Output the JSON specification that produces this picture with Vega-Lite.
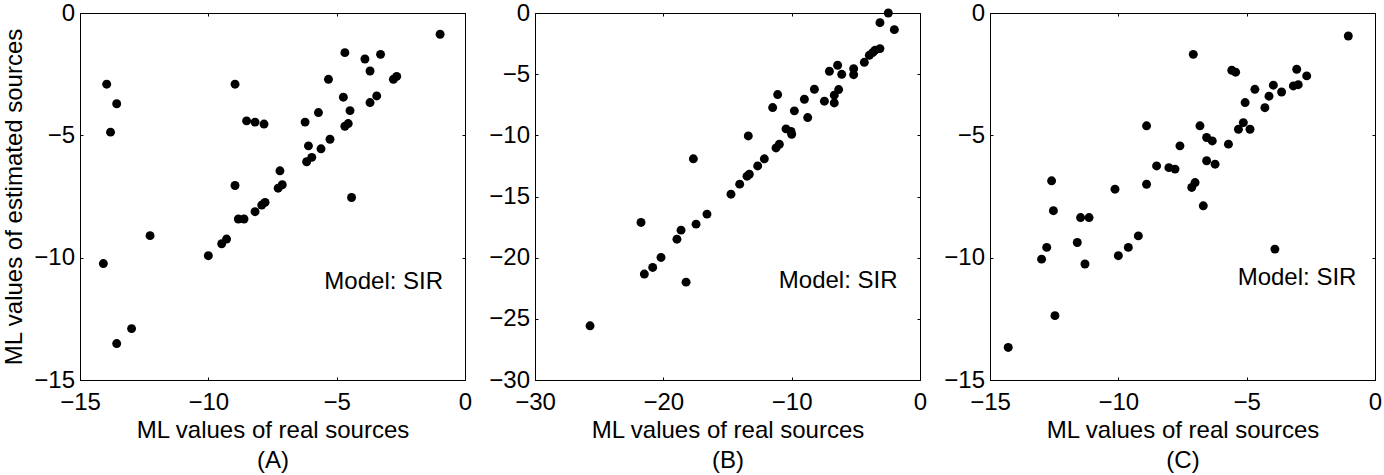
{
  "$schema": "https://vega.github.io/schema/vega-lite/v6.json",
  "padding": {"left": 2, "top": 0, "right": 0, "bottom": 0},
  "background": "white",
  "datasets": {
    "A": [
      {"x": -0.97, "y": -0.87}, {"x": -4.68, "y": -1.62}, {"x": -3.29, "y": -1.69}, {"x": -3.9, "y": -1.88},
      {"x": -3.7, "y": -2.37}, {"x": -5.32, "y": -2.71}, {"x": -2.79, "y": -2.71}, {"x": -2.66, "y": -2.59},
      {"x": -13.96, "y": -2.91}, {"x": -8.96, "y": -2.91}, {"x": -4.74, "y": -3.44}, {"x": -3.44, "y": -3.39},
      {"x": -3.7, "y": -3.66}, {"x": -13.57, "y": -3.71}, {"x": -5.71, "y": -4.07}, {"x": -4.48, "y": -3.99},
      {"x": -6.23, "y": -4.46}, {"x": -8.51, "y": -4.41}, {"x": -8.18, "y": -4.46}, {"x": -7.83, "y": -4.54},
      {"x": -4.55, "y": -4.52}, {"x": -4.68, "y": -4.63}, {"x": -13.81, "y": -4.87}, {"x": -5.26, "y": -5.16},
      {"x": -6.1, "y": -5.43}, {"x": -5.61, "y": -5.55}, {"x": -5.97, "y": -5.9}, {"x": -6.17, "y": -6.08},
      {"x": -7.21, "y": -6.45}, {"x": -7.28, "y": -7.16}, {"x": -7.12, "y": -7.02}, {"x": -8.96, "y": -7.05},
      {"x": -4.42, "y": -7.54}, {"x": -7.79, "y": -7.74}, {"x": -7.92, "y": -7.85}, {"x": -8.18, "y": -8.12},
      {"x": -8.83, "y": -8.42}, {"x": -8.61, "y": -8.42}, {"x": -12.27, "y": -9.1}, {"x": -9.29, "y": -9.24},
      {"x": -9.48, "y": -9.43}, {"x": -10.0, "y": -9.92}, {"x": -14.09, "y": -10.24}, {"x": -12.99, "y": -12.9},
      {"x": -13.57, "y": -13.51}
    ],
    "B": [
      {"x": -2.47, "y": 0.0}, {"x": -3.12, "y": -0.79}, {"x": -2.0, "y": -1.36}, {"x": -3.12, "y": -2.91},
      {"x": -3.51, "y": -3.05}, {"x": -3.69, "y": -3.24}, {"x": -3.95, "y": -3.46}, {"x": -4.34, "y": -4.03},
      {"x": -5.17, "y": -4.55}, {"x": -5.17, "y": -5.04}, {"x": -6.42, "y": -4.27}, {"x": -7.06, "y": -4.76},
      {"x": -6.1, "y": -5.01}, {"x": -8.23, "y": -6.23}, {"x": -6.34, "y": -6.26}, {"x": -6.68, "y": -6.72},
      {"x": -7.45, "y": -7.21}, {"x": -6.68, "y": -7.35}, {"x": -9.01, "y": -7.05}, {"x": -11.09, "y": -6.67},
      {"x": -11.48, "y": -7.73}, {"x": -9.79, "y": -8.0}, {"x": -8.75, "y": -8.55}, {"x": -10.44, "y": -9.47},
      {"x": -10.0, "y": -9.91}, {"x": -10.05, "y": -9.68}, {"x": -13.38, "y": -10.05}, {"x": -10.96, "y": -10.73},
      {"x": -11.22, "y": -11.03}, {"x": -17.66, "y": -11.92}, {"x": -12.13, "y": -11.92}, {"x": -12.65, "y": -12.5},
      {"x": -13.3, "y": -13.18}, {"x": -13.48, "y": -13.34}, {"x": -14.05, "y": -13.99}, {"x": -14.73, "y": -14.81},
      {"x": -16.6, "y": -16.44}, {"x": -17.45, "y": -17.26}, {"x": -21.74, "y": -17.12}, {"x": -18.62, "y": -17.75},
      {"x": -18.94, "y": -18.49}, {"x": -20.18, "y": -19.98}, {"x": -20.83, "y": -20.8}, {"x": -21.48, "y": -21.34},
      {"x": -18.23, "y": -22.0}, {"x": -25.71, "y": -25.57}
    ],
    "C": [
      {"x": -1.04, "y": -0.94}, {"x": -7.08, "y": -1.69}, {"x": -3.05, "y": -2.3}, {"x": -2.66, "y": -2.57},
      {"x": -5.58, "y": -2.34}, {"x": -5.43, "y": -2.42}, {"x": -3.96, "y": -2.95}, {"x": -3.18, "y": -2.98},
      {"x": -2.99, "y": -2.93}, {"x": -4.68, "y": -3.12}, {"x": -3.64, "y": -3.23}, {"x": -4.13, "y": -3.4},
      {"x": -5.06, "y": -3.66}, {"x": -4.29, "y": -3.87}, {"x": -8.9, "y": -4.61}, {"x": -6.82, "y": -4.61},
      {"x": -5.13, "y": -4.48}, {"x": -5.32, "y": -4.75}, {"x": -4.87, "y": -4.75}, {"x": -6.56, "y": -5.09},
      {"x": -6.34, "y": -5.23}, {"x": -5.71, "y": -5.36}, {"x": -7.6, "y": -5.43}, {"x": -6.56, "y": -6.04},
      {"x": -6.23, "y": -6.18}, {"x": -8.51, "y": -6.25}, {"x": -8.03, "y": -6.32}, {"x": -7.79, "y": -6.38},
      {"x": -8.9, "y": -7.0}, {"x": -7.01, "y": -6.93}, {"x": -7.14, "y": -7.13}, {"x": -10.13, "y": -7.2},
      {"x": -12.6, "y": -6.86}, {"x": -6.69, "y": -7.88}, {"x": -12.53, "y": -8.08}, {"x": -11.47, "y": -8.36},
      {"x": -11.14, "y": -8.36}, {"x": -9.22, "y": -9.11}, {"x": -11.6, "y": -9.38}, {"x": -9.61, "y": -9.58},
      {"x": -12.79, "y": -9.58}, {"x": -3.9, "y": -9.65}, {"x": -10.0, "y": -9.92}, {"x": -12.99, "y": -10.06},
      {"x": -11.3, "y": -10.26}, {"x": -12.47, "y": -12.37}, {"x": -14.29, "y": -13.67}
    ]
  },
  "hconcat": [
    {
      "width": 385, "height": 367,
      "data": {"name": "A"},
      "layer": [
        {
          "mark": {"type": "circle", "size": 80, "color": "black", "opacity": 1},
          "encoding": {
            "x": {"field": "x", "type": "quantitative", "scale": {"domain": [-15, 0], "nice": false, "zero": false},
                  "axis": {"orient": "bottom", "values": [-15, -10, -5, 0], "title": ["ML values of real sources", "(A)"]}},
            "y": {"field": "y", "type": "quantitative", "scale": {"domain": [-15, 0], "nice": false, "zero": false},
                  "axis": {"orient": "left", "values": [-15, -10, -5, 0], "title": "ML values of estimated sources"}}
          }
        },
        {
          "mark": {"type": "circle", "size": 0, "opacity": 0},
          "encoding": {
            "x": {"field": "x", "type": "quantitative", "scale": {"domain": [-15, 0], "nice": false, "zero": false},
                  "axis": {"orient": "top", "values": [-15, -10, -5, 0], "labels": false, "title": null}},
            "y": {"field": "y", "type": "quantitative", "scale": {"domain": [-15, 0], "nice": false, "zero": false},
                  "axis": {"orient": "right", "values": [-15, -10, -5, 0], "labels": false, "title": null}}
          }
        },
        {
          "data": {"values": [{"label": "Model: SIR", "x": -5.48, "y": -11.0}]},
          "mark": {"type": "text", "align": "left", "baseline": "middle", "fontSize": 24, "font": "Liberation Sans", "color": "black"},
          "encoding": {
            "x": {"field": "x", "type": "quantitative", "scale": {"domain": [-15, 0], "nice": false, "zero": false}, "axis": null},
            "y": {"field": "y", "type": "quantitative", "scale": {"domain": [-15, 0], "nice": false, "zero": false}, "axis": null},
            "text": {"field": "label"}
          }
        }
      ],
      "resolve": {"axis": {"x": "independent", "y": "independent"}}
    },
    {
      "width": 385, "height": 367,
      "data": {"name": "B"},
      "layer": [
        {
          "mark": {"type": "circle", "size": 80, "color": "black", "opacity": 1},
          "encoding": {
            "x": {"field": "x", "type": "quantitative", "scale": {"domain": [-30, 0], "nice": false, "zero": false},
                  "axis": {"orient": "bottom", "values": [-30, -20, -10, 0], "title": ["ML values of real sources", "(B)"]}},
            "y": {"field": "y", "type": "quantitative", "scale": {"domain": [-30, 0], "nice": false, "zero": false},
                  "axis": {"orient": "left", "values": [-30, -25, -20, -15, -10, -5, 0], "title": null}}
          }
        },
        {
          "mark": {"type": "circle", "size": 0, "opacity": 0},
          "encoding": {
            "x": {"field": "x", "type": "quantitative", "scale": {"domain": [-30, 0], "nice": false, "zero": false},
                  "axis": {"orient": "top", "values": [-30, -20, -10, 0], "labels": false, "title": null}},
            "y": {"field": "y", "type": "quantitative", "scale": {"domain": [-30, 0], "nice": false, "zero": false},
                  "axis": {"orient": "right", "values": [-30, -25, -20, -15, -10, -5, 0], "labels": false, "title": null}}
          }
        },
        {
          "data": {"values": [{"label": "Model: SIR", "x": -11.0, "y": -21.9}]},
          "mark": {"type": "text", "align": "left", "baseline": "middle", "fontSize": 24, "font": "Liberation Sans", "color": "black"},
          "encoding": {
            "x": {"field": "x", "type": "quantitative", "scale": {"domain": [-30, 0], "nice": false, "zero": false}, "axis": null},
            "y": {"field": "y", "type": "quantitative", "scale": {"domain": [-30, 0], "nice": false, "zero": false}, "axis": null},
            "text": {"field": "label"}
          }
        }
      ],
      "resolve": {"axis": {"x": "independent", "y": "independent"}}
    },
    {
      "width": 385, "height": 367,
      "data": {"name": "C"},
      "layer": [
        {
          "mark": {"type": "circle", "size": 80, "color": "black", "opacity": 1},
          "encoding": {
            "x": {"field": "x", "type": "quantitative", "scale": {"domain": [-15, 0], "nice": false, "zero": false},
                  "axis": {"orient": "bottom", "values": [-15, -10, -5, 0], "title": ["ML values of real sources", "(C)"]}},
            "y": {"field": "y", "type": "quantitative", "scale": {"domain": [-15, 0], "nice": false, "zero": false},
                  "axis": {"orient": "left", "values": [-15, -10, -5, 0], "title": null}}
          }
        },
        {
          "mark": {"type": "circle", "size": 0, "opacity": 0},
          "encoding": {
            "x": {"field": "x", "type": "quantitative", "scale": {"domain": [-15, 0], "nice": false, "zero": false},
                  "axis": {"orient": "top", "values": [-15, -10, -5, 0], "labels": false, "title": null}},
            "y": {"field": "y", "type": "quantitative", "scale": {"domain": [-15, 0], "nice": false, "zero": false},
                  "axis": {"orient": "right", "values": [-15, -10, -5, 0], "labels": false, "title": null}}
          }
        },
        {
          "data": {"values": [{"label": "Model: SIR", "x": -5.35, "y": -10.85}]},
          "mark": {"type": "text", "align": "left", "baseline": "middle", "fontSize": 24, "font": "Liberation Sans", "color": "black"},
          "encoding": {
            "x": {"field": "x", "type": "quantitative", "scale": {"domain": [-15, 0], "nice": false, "zero": false}, "axis": null},
            "y": {"field": "y", "type": "quantitative", "scale": {"domain": [-15, 0], "nice": false, "zero": false}, "axis": null},
            "text": {"field": "label"}
          }
        }
      ],
      "resolve": {"axis": {"x": "independent", "y": "independent"}}
    }
  ],
  "spacing": 70,
  "bounds": "flush",
  "config": {
    "font": "Liberation Sans",
    "view": {"stroke": "black", "strokeWidth": 1},
    "axis": {
      "grid": false,
      "domainColor": "black",
      "domainWidth": 1,
      "tickColor": "black",
      "tickSize": -3,
      "labelFont": "Liberation Sans",
      "labelFontSize": 24,
      "labelColor": "black",
      "labelFlush": false,
      "labelOverlap": false,
      "titleFont": "Liberation Sans",
      "titleFontSize": 24,
      "titleFontWeight": "normal",
      "titleColor": "black"
    },
    "axisX": {"labelPadding": 13.5, "titlePadding": 4, "titleLineHeight": 30},
    "axisY": {"labelPadding": 8.5, "titlePadding": 7}
  }
}
